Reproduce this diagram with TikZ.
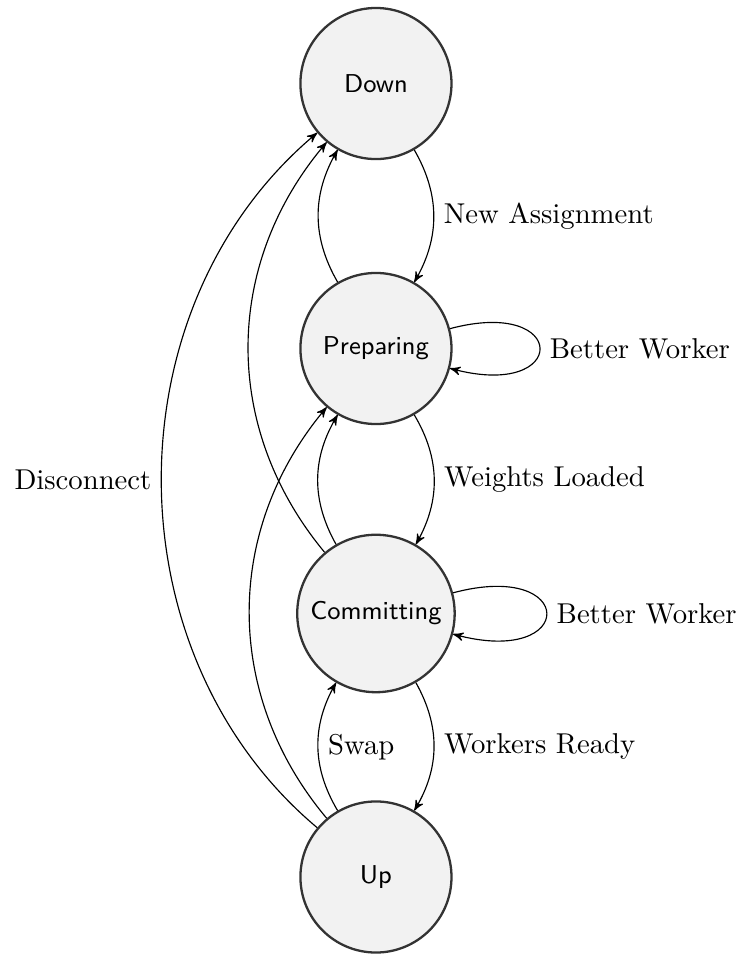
\documentclass[tikz,border=0pt]{standalone}
\usetikzlibrary{shapes,arrows}
\tikzstyle{st}=[circle,draw=black!80,thick,fill=black!5,minimum size=1.85cm,inner sep=3.5pt,font=\sffamily\small]
\tikzstyle{tr}=[->,>=stealth',thin,auto]

\begin{document}
\begin{tikzpicture}
\useasboundingbox (0,0) rectangle (9.087,11.683);
\node[st] (down) at (4.604,10.660) {Down};
\node[st] (prep) at (4.604,7.415) {Preparing};
\node[st] (comm) at (4.604,4.170) {Committing};
\node[st] (up) at (4.604,0.943) {Up};
% forward
\draw[tr] (down) to[bend left] node {New Assignment} (prep);
\draw[tr] (prep) to[bend left] node {Weights Loaded} (comm);
\draw[tr] (comm) to[bend left] node {Workers Ready} (up);
% loops
\draw[tr] (prep) to[loop right] node {Better Worker} (prep);
\draw[tr] (comm) to[loop right] node {Better Worker} (comm);
% back
\draw[tr] (prep) to[bend left] (down);
\draw[tr] (comm) to[bend left] (prep);
\draw[tr] (up) to[bend left] node[swap] {Swap} (comm);
\draw[tr] (comm) to[bend left=40] (down);
\draw[tr] (up) to[bend left=40] (prep);
\draw[tr] (up) to[bend left=50] node {Disconnect} (down);
\end{tikzpicture}
\end{document}
